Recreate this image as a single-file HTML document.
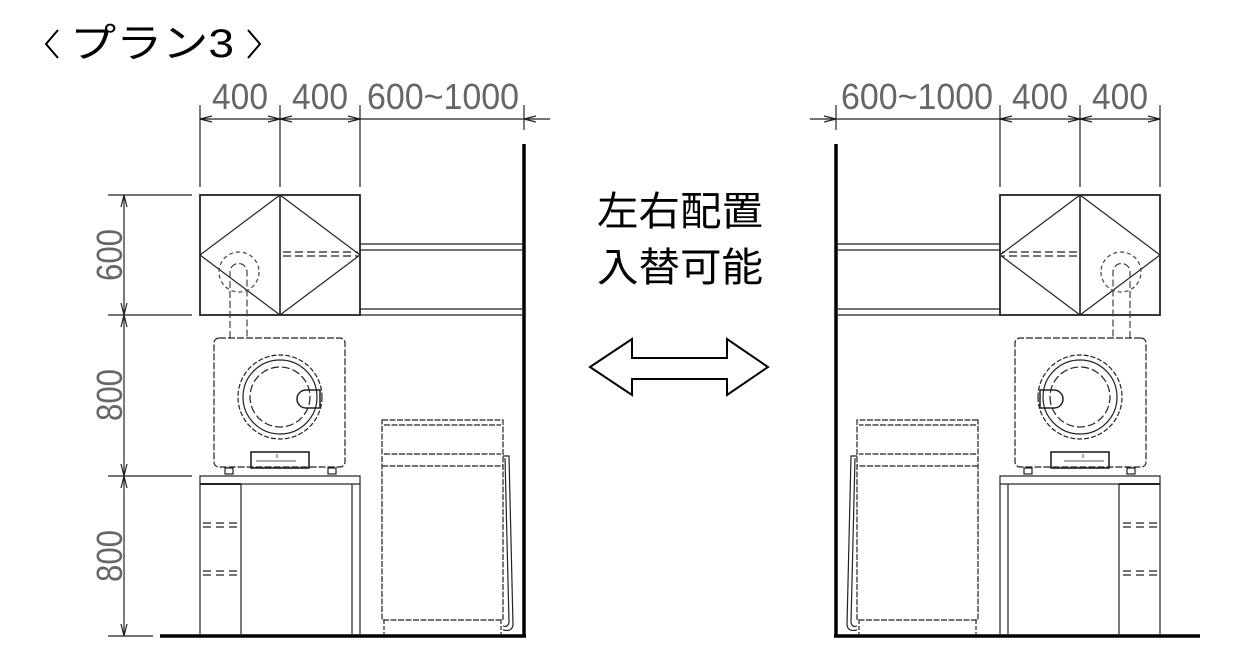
<!DOCTYPE html>
<html><head><meta charset="utf-8"><style>
html,body{margin:0;padding:0;background:#fff;width:1248px;height:668px;overflow:hidden}
svg{display:block}
</style></head><body>
<svg width="1248" height="668" viewBox="0 0 1248 668" xmlns="http://www.w3.org/2000/svg">
<defs>
<g id="half" fill="none" stroke="#222" stroke-width="1.2">
  <line x1="200" y1="119" x2="360" y2="119"/>
  <line x1="360" y1="119" x2="550" y2="119" />
  <line x1="200" y1="105" x2="200" y2="187"/>
  <line x1="280" y1="105" x2="280" y2="187"/>
  <line x1="360" y1="105" x2="360" y2="187"/>
  <line x1="524" y1="105" x2="524" y2="130"/>
  <path d="M200 119 l12 -3 M200 119 l12 3 M280 119 l-12 -3 M280 119 l-12 3 M280 119 l12 -3 M280 119 l12 3 M360 119 l-12 -3 M360 119 l-12 3 M524 119 l12 -3 M524 119 l12 3"/>
  <line x1="524" y1="144" x2="524" y2="637" stroke-width="3.5" stroke="#000"/>
  <line x1="160" y1="636" x2="526" y2="636" stroke-width="3.5" stroke="#000"/>
  <rect x="200" y="195" width="160" height="120" stroke-width="1.8"/>
  <line x1="280" y1="195" x2="280" y2="315" stroke-width="1.6"/>
  <path d="M280 195 L200 255 L280 315 M280 195 L360 255 L280 315"/>
  <path d="M283 252 H358 M283 256 H358" stroke-dasharray="8 4"/>
  <path d="M360 244 H524 M360 250 H524 M360 309 H524 M360 315 H524"/>
  <circle cx="239" cy="272" r="20" stroke-dasharray="4 3" stroke="#444"/>
  <path d="M230 338 V272 A8.5 8.5 0 0 1 247 272 V338" stroke-dasharray="7 3" stroke="#444"/>
  <rect x="214" y="338" width="131" height="129" rx="5" stroke-dasharray="7 2"/>
  <circle cx="280" cy="397" r="42" stroke-dasharray="5 2"/>
  <circle cx="280" cy="397" r="37"/>
  <circle cx="280" cy="397" r="30" stroke-dasharray="8 3"/>
  <path d="M306 390 H320 V408 H306 A9 9 0 0 1 306 390 Z" stroke-width="1.5"/>
  <rect x="251" y="452" width="58" height="16" stroke-width="1.6"/>
  <path d="M256 461 h40 M277 454 v4" stroke-width="0.8"/>
  <rect x="225" y="468" width="8" height="6"/>
  <rect x="328" y="468" width="8" height="6"/>
  <rect x="200" y="476" width="160" height="8"/>
  <line x1="200" y1="484" x2="200" y2="636"/>
  <line x1="360" y1="484" x2="360" y2="636"/>
  <line x1="241" y1="484" x2="241" y2="636"/>
  <line x1="352" y1="484" x2="352" y2="636"/>
  <line x1="200" y1="484" x2="241" y2="484" stroke-width="2"/>
  <path d="M203 523 H240 M203 527 H240 M203 571 H240 M203 575 H240" stroke-dasharray="8 5"/>
  <rect x="382" y="420" width="121" height="200" stroke-dasharray="6 1.5"/>
  <path d="M384 454 H501 M382 466 H503 M384 425 H501" stroke-dasharray="6 1.5"/>
  <path d="M384 620 V634 M501 620 V634" stroke-dasharray="4 2"/>
  <path d="M503 456 H509 L513 625 Q512 632 503 630" />
  <path d="M505 458 L509 622 Q508 628 503 626"/>
</g>
</defs>
<use href="#half"/>
<use href="#half" transform="translate(1360,0) scale(-1,1)"/>
<g fill="none" stroke="#222" stroke-width="1.2">
  <line x1="124" y1="195" x2="124" y2="636"/>
  <path d="M108 195 H192 M108 315 H192 M108 476 H192 M108 636 H153"/>
  <path d="M124 195 l-3 12 M124 195 l3 12 M124 315 l-3 -12 M124 315 l3 -12 M124 315 l-3 12 M124 315 l3 12 M124 476 l-3 -12 M124 476 l3 -12 M124 476 l-3 12 M124 476 l3 12 M124 636 l-3 -12 M124 636 l3 -12"/>
</g>
<g font-family="Liberation Sans, sans-serif" font-size="36" fill="#666" text-anchor="middle">
  <text x="240" y="109" textLength="56" lengthAdjust="spacingAndGlyphs">400</text>
  <text x="320" y="109" textLength="56" lengthAdjust="spacingAndGlyphs">400</text>
  <text x="443" y="109" textLength="152" lengthAdjust="spacingAndGlyphs">600~1000</text>
  <text x="917" y="109" textLength="152" lengthAdjust="spacingAndGlyphs">600~1000</text>
  <text x="1040" y="109" textLength="56" lengthAdjust="spacingAndGlyphs">400</text>
  <text x="1120" y="109" textLength="56" lengthAdjust="spacingAndGlyphs">400</text>
  <text transform="translate(122,255) rotate(-90)" textLength="52" lengthAdjust="spacingAndGlyphs">600</text>
  <text transform="translate(122,395) rotate(-90)" textLength="52" lengthAdjust="spacingAndGlyphs">800</text>
  <text transform="translate(122,556) rotate(-90)" textLength="52" lengthAdjust="spacingAndGlyphs">800</text>
</g>
<g fill="none" stroke="#000" stroke-width="2">
  <path d="M58 30 L46 44 L58 58"/>
  <path d="M248 30 L260 44 L248 58"/>
</g>
<text x="70" y="57" font-family="Liberation Sans, 'Noto Sans CJK JP', sans-serif" font-size="40" fill="#000" textLength="164" lengthAdjust="spacingAndGlyphs">プラン3</text>
<g font-family="Liberation Sans, 'Noto Sans CJK JP', sans-serif" font-size="40" fill="#000">
  <text x="597" y="225" textLength="166" lengthAdjust="spacingAndGlyphs">左右配置</text>
  <text x="597" y="281" textLength="166" lengthAdjust="spacingAndGlyphs">入替可能</text>
</g>
<path d="M590 367 L632 339 V358 H727 V339 L768 367 L727 395 V379 H632 V395 Z" fill="none" stroke="#000" stroke-width="2"/>
</svg>
</body></html>
